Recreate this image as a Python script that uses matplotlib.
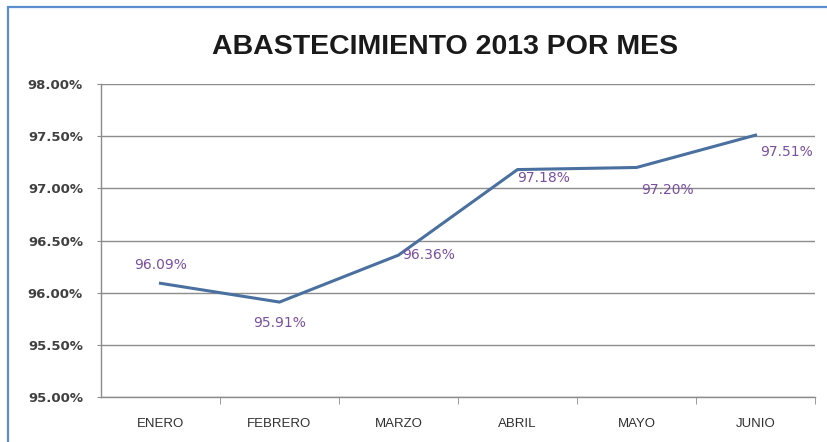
import matplotlib.pyplot as plt
import matplotlib.ticker as mticker
from matplotlib.patches import Rectangle

meses = ["ENERO", "FEBRERO", "MARZO", "ABRIL", "MAYO", "JUNIO"]
abastecimiento = [96.09, 95.91, 96.36, 97.18, 97.20, 97.51]
# label offsets (points) relative to each point
label_dx = [0, 0, 22, 19, 22, 22]
label_dy = [13, -15, 0, -6, -16, -12]

plt.rcParams["font.family"] = ["Liberation Sans", "DejaVu Sans"]

fig = plt.figure(figsize=(8.27, 4.42), dpi=100)
ax = fig.add_axes([0.1221, 0.1018, 0.8634, 0.7081])

# outer chart border (blue frame, partially cropped on right/bottom)
fig.patches.append(Rectangle((8 / 827, -0.1), 1.2, 1 - 7 / 442 + 0.1,
                             transform=fig.transFigure, fill=False,
                             edgecolor="#5B8FD0", linewidth=1.6))

x = list(range(len(meses)))
ax.plot(x, abastecimiento, color="#4A70A0", linewidth=2.2, solid_joinstyle="miter")

for xi, v, dx, dy in zip(x, abastecimiento, label_dx, label_dy):
    ax.annotate(f"{v:.2f}%", (xi, v), xytext=(dx, dy), textcoords="offset points",
                ha="center", va="center", color="#7A4FA0", fontsize=10,
                family="DejaVu Sans")

ax.set_xlim(-0.5, len(meses) - 0.5)
ax.set_ylim(95.0, 98.0)
ax.yaxis.set_major_locator(mticker.MultipleLocator(0.5))
ax.yaxis.set_major_formatter(mticker.FuncFormatter(lambda v, _: f"{v:.2f}%"))
ax.grid(True, axis="y", color="#8C8C8C", linewidth=1.0)
ax.set_axisbelow(True)

ax.set_xticks(x)
ax.set_xticklabels(meses)
ax.xaxis.set_minor_locator(mticker.FixedLocator([i + 0.5 for i in x]))
ax.tick_params(axis="x", which="major", length=0, pad=15, labelsize=9.5, colors="#303030")
ax.tick_params(axis="x", which="minor", length=5, color="#8C8C8C", direction="out")
ax.tick_params(axis="y", length=3, color="#8C8C8C", labelsize=9.5, colors="#404040", pad=10)
for lbl in ax.get_yticklabels():
    lbl.set_family("DejaVu Sans")
    lbl.set_fontweight("bold")

for side in ("top", "right"):
    ax.spines[side].set_visible(False)
for side in ("left", "bottom"):
    ax.spines[side].set_color("#8C8C8C")
    ax.spines[side].set_linewidth(1.0)

fig.text(0.538, 1 - 47 / 442, "ABASTECIMIENTO 2013 POR MES", ha="center", va="center",
         fontsize=20.5, fontweight="bold", color="#1A1A1A")

fig.savefig("out.png", dpi=100)
